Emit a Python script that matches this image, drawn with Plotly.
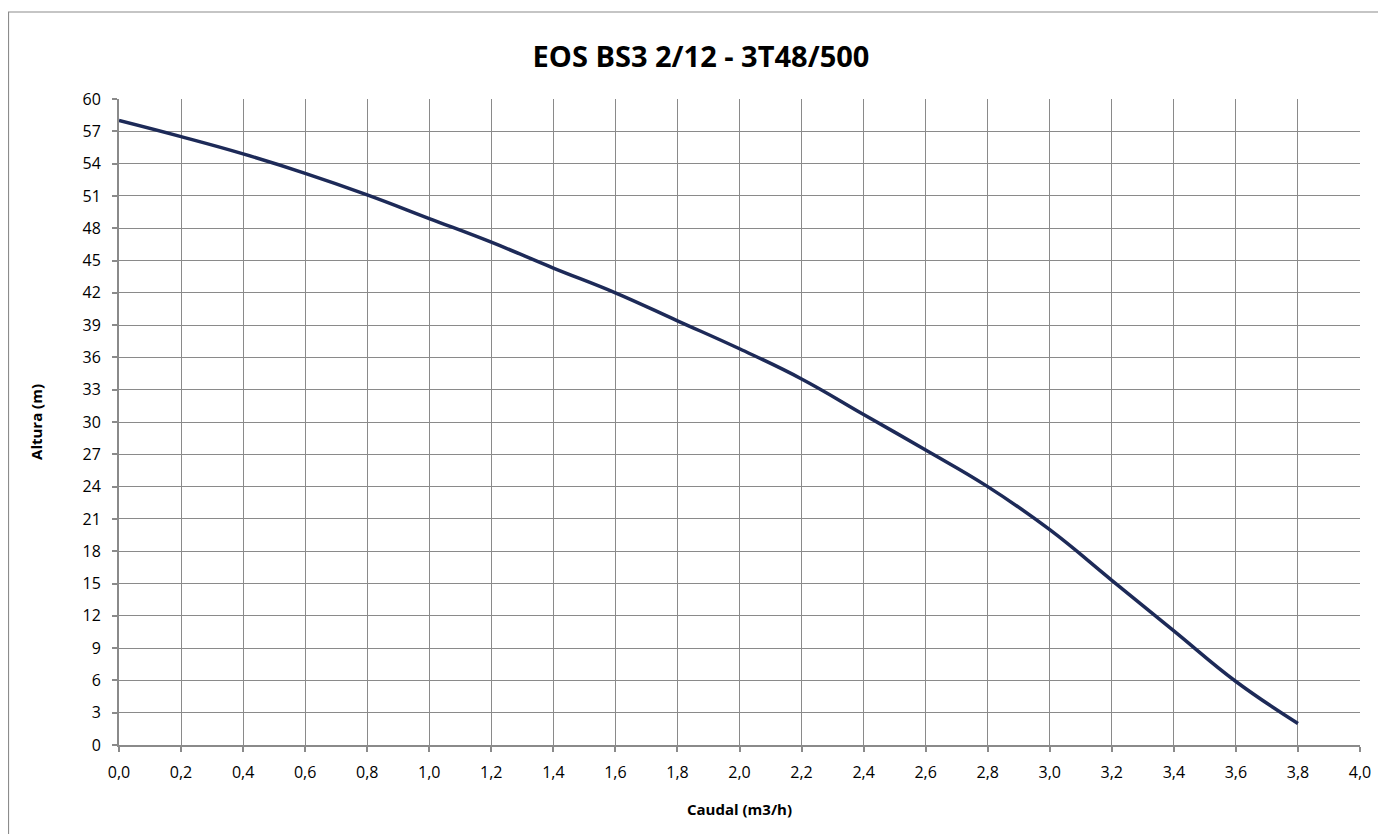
import plotly.graph_objects as go

caudal = [0.0, 0.2, 0.4, 0.6, 0.8, 1.0, 1.2, 1.4, 1.6, 1.8, 2.0, 2.2, 2.4, 2.6, 2.8, 3.0, 3.2, 3.4, 3.6, 3.8]
altura = [58.0, 56.5, 54.9, 53.1, 51.1, 48.9, 46.7, 44.3, 42.0, 39.4, 36.8, 34.0, 30.7, 27.4, 24.0, 20.0, 15.3, 10.6, 5.9, 2.0]

title_text = "EOS BS3 2/12 - 3T48/500"
x_title = "Caudal (m3/h)"
y_title = "Altura (m)"

OFF = 8  # page body margin
W, H = 1386 - OFF, 834 - OFF
ML, MT = 119 - OFF, 99 - OFF
MR = W - (1360 - OFF)
MB = H - (745 - OFF)
pw = W - ML - MR
ph = H - MT - MB

def px_x(p):
    return (p - OFF - ML) / pw

def px_y(p):
    return (H - MB - (p - OFF)) / ph

FONT = "Open Sans"
GRID = "#8a8a8a"

fig = go.Figure()
fig.add_trace(go.Scatter(
    x=caudal, y=altura, mode="lines",
    line=dict(color="#1d2a58", width=3.5, shape="spline", smoothing=1.2),
    showlegend=False, hoverinfo="x+y"))

fig.update_layout(
    width=W, height=H,
    margin=dict(l=ML, r=MR, t=MT, b=MB),
    paper_bgcolor="white", plot_bgcolor="white",
    separators=",.",
    font=dict(family=FONT, color="#000000"),
    title=dict(text=f"<b>{title_text}</b>", xref="container", x=(701 - OFF) / W, xanchor="center",
               yref="container", y=1 - (57 - OFF) / H, yanchor="middle",
               font=dict(family=FONT, size=29, color="#000000")),
    xaxis=dict(range=[0, 4], tick0=0, dtick=0.2, tickformat=".1f",
               showgrid=True, gridcolor=GRID, gridwidth=1,
               showline=True, linecolor=GRID, linewidth=2, mirror=False,
               ticks="outside", ticklen=5, tickcolor=GRID, tickwidth=1.5,
               tickfont=dict(family=FONT, size=16, color="#000000"),
               ticklabelstandoff=7, zeroline=False,
               title=dict(text=f"<b>{x_title}</b>", font=dict(family=FONT, size=15, color="#000000"), standoff=22)),
    yaxis=dict(range=[0, 60], tick0=0, dtick=3, tickformat="d",
               showgrid=True, gridcolor=GRID, gridwidth=1,
               showline=True, linecolor=GRID, linewidth=2,
               ticks="outside", ticklen=5, tickcolor=GRID, tickwidth=1.5,
               tickfont=dict(family=FONT, size=16, color="#000000"),
               ticklabelstandoff=8, zeroline=False,
               title=dict(text=f"<b>{y_title}</b>", font=dict(family=FONT, size=15, color="#000000"), standoff=36)),
)

fig.add_shape(type="rect", xref="paper", yref="paper",
              x0=px_x(8.5), x1=px_x(1385), y0=px_y(845), y1=px_y(12),
              line=dict(color="#8c8c8c", width=1.2), fillcolor="rgba(0,0,0,0)", layer="below")

fig.write_html("out.html")
